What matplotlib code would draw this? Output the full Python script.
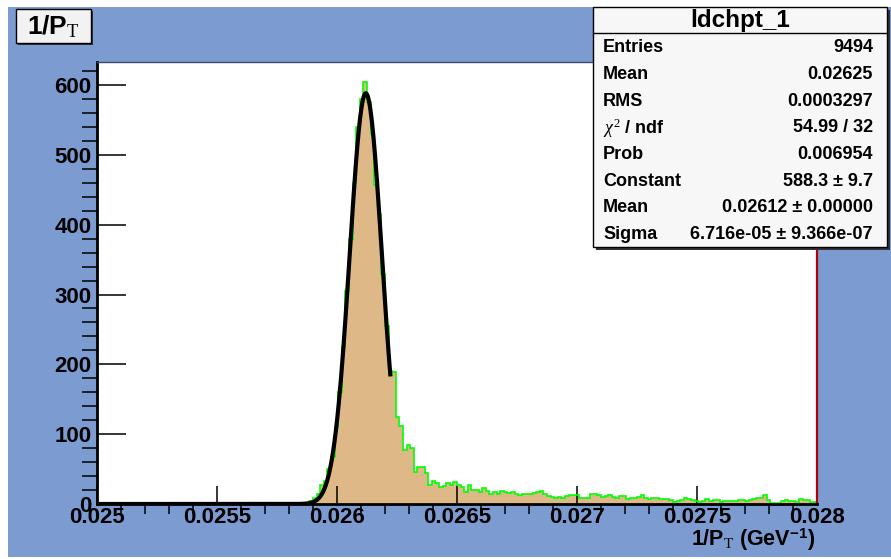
import matplotlib.pyplot as plt
from matplotlib.patches import Rectangle
import numpy as np

# histogram: 200 bins over 0.025 .. 0.028
x_min, x_max, n_bins = 0.025, 0.028, 200
counts = [0] * 47 + [
    1, 1, 0, 0, 0, 0, 1, 1, 0, 1, 2, 2, 4,
    9, 15, 27, 33, 50, 68, 110, 160, 225, 305,
    380, 460, 540, 580, 605, 575, 530, 457, 415, 330,
    255, 190, 189, 125, 112, 77, 84, 80, 46, 53,
    53, 44, 27, 33, 30, 24, 26, 30, 27, 32,
    27, 24, 17, 27, 20, 20, 17, 23, 19, 15,
    17, 14, 18, 17, 16, 17, 15, 13, 14, 15,
    15, 16, 17, 18, 14, 11, 10, 9, 10, 8,
    12, 13, 13, 13, 8, 8, 8, 14, 14, 13,
    10, 11, 13, 10, 9, 11, 11, 7, 8, 8,
    10, 13, 8, 7, 9, 8, 7, 7, 7, 6,
    3, 5, 6, 8, 7, 6, 4, 3, 5, 7,
    5, 6, 6, 3, 4, 5, 5, 5, 6, 6,
    5, 6, 7, 8, 8, 13, 6, 2, 2, 2,
    4, 6, 4, 4, 3, 7, 6, 6, 3, 3,
]

# gaussian fit parameters (from the stats box)
fit_const = 588.3
fit_mean = 0.02612
fit_sigma = 6.716e-05
fit_range = (0.025, 0.026222)

x_ticks = [0.025, 0.0255, 0.026, 0.0265, 0.027, 0.0275, 0.028]
x_tick_labels = ['0.025', '0.0255', '0.026', '0.0265', '0.027', '0.0275', '0.028']
y_ticks = [0, 100, 200, 300, 400, 500, 600]

stat_names = ['Entries', 'Mean', 'RMS', r'$\chi^{2}$ / ndf', 'Prob', 'Constant', 'Mean', 'Sigma']
stat_values = ['9494', '0.02625', '0.0003297', '54.99 / 32', '0.006954',
               '588.3 ± 9.7', '0.02612 ± 0.00000', '6.716e-05 ± 9.366e-07']

W, H = 891, 559
plt.rcParams['font.family'] = ['Liberation Sans', 'DejaVu Sans']
plt.rcParams['mathtext.fontset'] = 'custom'
plt.rcParams['mathtext.rm'] = 'Liberation Serif'
plt.rcParams['mathtext.it'] = 'Liberation Serif:italic'
plt.rcParams['mathtext.sf'] = 'Liberation Sans:bold'


def fx(px):
    return px / W


def fy(py):
    return 1 - py / H


fig = plt.figure(figsize=(W / 100, H / 100), dpi=100)
fig.patch.set_facecolor('white')
fig.patches.append(Rectangle((fx(8), fy(557)), fx(883), 550 / H, transform=fig.transFigure,
                             facecolor='#7b9bd1', edgecolor='none', zorder=-5))

ax = fig.add_axes([fx(97), fy(504), fx(720), 442 / H])
ax.set_zorder(1)
ax.set_facecolor('white')

edges = np.linspace(x_min, x_max, n_bins + 1)
ax.stairs(counts, edges, fill=True, color='#deb887', zorder=1)
ax.stairs(counts, edges, color='#00ff00', linewidth=1.2, zorder=2)

xf = np.linspace(fit_range[0], fit_range[1], 400)
yf = fit_const * np.exp(-0.5 * ((xf - fit_mean) / fit_sigma) ** 2)
ax.plot(xf, yf, color='black', linewidth=3, zorder=3)

ax.set_xlim(x_min, x_max)
ax.set_ylim(0, 633)
ax.set_xticks(x_ticks, x_tick_labels)
ax.set_xticks(np.arange(0.025, 0.02801, 0.0001), minor=True)
ax.set_yticks(y_ticks)
ax.set_yticks(np.arange(0, 621, 20), minor=True)
ax.tick_params(axis='both', direction='in', labelsize=16, width=1.1)
ax.tick_params(axis='x', which='major', length=13, pad=2)
ax.tick_params(axis='x', which='minor', length=7, width=1.1)
ax.tick_params(axis='y', which='major', length=21, pad=4)
ax.tick_params(axis='y', which='minor', length=11, width=1.1)
for lab in ax.get_xticklabels() + ax.get_yticklabels():
    lab.set_fontweight('bold')
ax.spines['left'].set_linewidth(2)
ax.spines['bottom'].set_linewidth(2)
ax.spines['top'].set_linewidth(1)
ax.spines['top'].set_color('#3b4a6b')
ax.spines['right'].set_linewidth(1.6)
ax.spines['right'].set_color('#b00000')
for s in ax.spines.values():
    s.set_zorder(5)

# x axis title
fig.text(fx(815), fy(540), r'1/P$_{\rm T}$ (GeV$^{\mathsf{-1}}$)', ha='right', va='center',
         fontsize=15.5, fontweight='bold')

# title box
fig.patches.append(Rectangle((fx(18), fy(45)), fx(75), 34 / H, transform=fig.transFigure,
                             facecolor='#333333', edgecolor='none', zorder=4))
fig.patches.append(Rectangle((fx(16), fy(43)), fx(75), 34 / H, transform=fig.transFigure,
                             facecolor='#f2f2f2', edgecolor='black', linewidth=1, zorder=5))
fig.text(fx(53), fy(27), r'1/P$_{\rm T}$', ha='center', va='center', fontsize=19,
         fontweight='bold', zorder=6)

# stats box
fig.patches.append(Rectangle((fx(596), fy(250)), fx(294), 240 / H, transform=fig.transFigure,
                             facecolor='#333333', edgecolor='none', zorder=6))
fig.patches.append(Rectangle((fx(593), fy(247)), fx(294), 240 / H, transform=fig.transFigure,
                             facecolor='#f7f7f7', edgecolor='black', linewidth=1, zorder=7))
fig.lines.append(plt.Line2D([fx(593), fx(887)], [fy(33), fy(33)], transform=fig.transFigure,
                            color='black', linewidth=1, zorder=8))
fig.text(fx(740), fy(20), 'ldchpt_1', ha='center', va='center', fontsize=17.5,
         fontweight='bold', zorder=9)
for i, (name, val) in enumerate(zip(stat_names, stat_values)):
    yy = fy(48 + i * 26.6)
    fig.text(fx(603), yy, name, ha='left', va='center', fontsize=13, fontweight='bold', zorder=9)
    fig.text(fx(873), yy, val, ha='right', va='center', fontsize=13, fontweight='bold', zorder=9)

fig.savefig('out.png', dpi=100)
